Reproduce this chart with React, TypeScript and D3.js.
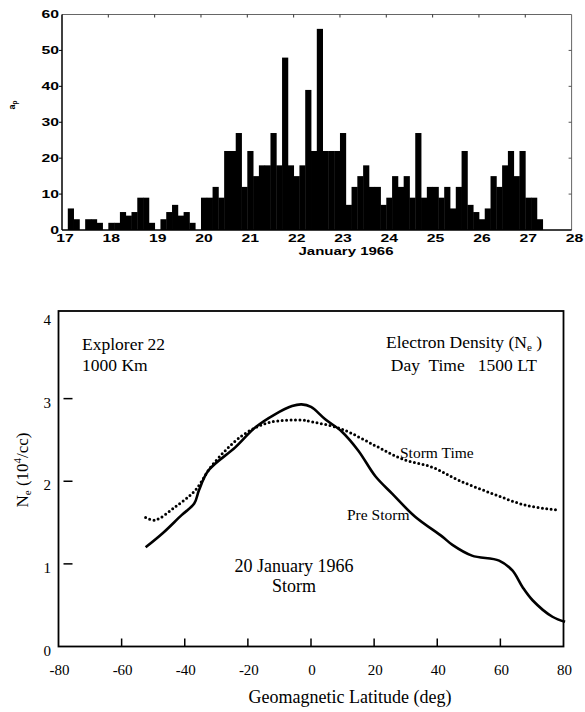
import * as d3 from "d3";

// 3-hourly ap index, 8 values per day starting 00 UT on 17 January 1966
const apValues = [
  0, 6, 3, 0, 3, 3, 2, 0,
  2, 2, 5, 4, 5, 9, 9, 2,
  0, 3, 5, 7, 4, 5, 2, 0,
  9, 9, 12, 9, 22, 22, 27, 12,
  22, 15, 18, 18, 27, 18, 48, 18,
  15, 18, 39, 22, 56, 22, 22, 22,
  27, 7, 12, 15, 18, 12, 12, 7,
  9, 15, 12, 15, 9, 27, 9, 12,
  12, 9, 12, 6, 12, 22, 7, 5,
  3, 6, 15, 12, 18, 22, 15, 22,
  9, 9, 3,
];
const dayTicks = [17, 18, 19, 20, 21, 22, 23, 24, 25, 26, 27, 28];
const apTicks = [0, 10, 20, 30, 40, 50, 60];

// Explorer 22 electron density, 1000 km, 1500 LT
const preStormLat = [-52.4, -47, -41, -37, -35.5, -32.5, -24, -17.7, -11.4, -6, -3, 0, 4.5, 9.8, 15, 20.4, 25.7, 33, 41.6, 44.8, 51, 59.6, 63.8, 67, 70.2, 76.5, 80.5];
const preStormNe = [1.2, 1.37, 1.59, 1.73, 1.89, 2.13, 2.41, 2.65, 2.81, 2.91, 2.93, 2.9, 2.75, 2.6, 2.37, 2.06, 1.85, 1.57, 1.33, 1.23, 1.1, 1.04, 0.92, 0.72, 0.56, 0.36, 0.3];
const stormLat = [-52.4, -49.4, -43, -36.7, -31.4, -21.9, -13.4, -3, 0.3, 9.8, 20.4, 28.9, 38.4, 46.9, 57.5, 68, 78.6];
const stormNe = [1.56, 1.53, 1.69, 1.89, 2.19, 2.55, 2.71, 2.74, 2.72, 2.63, 2.43, 2.27, 2.17, 2.01, 1.85, 1.71, 1.65];
const latTicks = [-80, -60, -40, -20, 0, 20, 40, 60, 80];
const neTicks = [0, 1, 2, 3, 4];

const sans = "'Liberation Sans', Arial, sans-serif";
const serif = "'Liberation Serif', 'Times New Roman', serif";

function ApPanel() {
  const x = d3.scaleLinear().domain([17, 28]).range([62, 571.6]);
  const y = d3.scaleLinear().domain([0, 60]).range([230, 14.5]);
  const bw = x(17 + 1 / 8) - x(17);
  // top panel text is stretched horizontally in the original
  const wide = (tx: number, ty: number) => `translate(${tx},${ty}) scale(1.5,1)`;

  return (
    <g>
      {apValues.map((v, i) =>
        v > 0 ? (
          <rect key={i} x={x(17 + i / 8)} y={y(v)} width={bw + 0.4} height={y(0) - y(v)} fill="#000" />
        ) : null
      )}
      <line x1={x(17)} x2={x(28)} y1={y(60)} y2={y(60)} stroke="#666" strokeWidth={1} />
      <line x1={x(28)} x2={x(28)} y1={y(60)} y2={y(0)} stroke="#666" strokeWidth={1} />
      <line x1={x(17)} x2={x(17)} y1={y(60)} y2={y(0)} stroke="#000" strokeWidth={1.5} />
      <line x1={x(17)} x2={x(28)} y1={y(0)} y2={y(0)} stroke="#000" strokeWidth={1.5} />
      {dayTicks.slice(1, -1).map((d) => (
        <line key={d} x1={x(d)} x2={x(d)} y1={y(60)} y2={y(60) + 3} stroke="#333" />
      ))}
      {apTicks.slice(1, -1).map((t) => (
        <g key={t}>
          <line x1={x(28)} x2={x(28) - 3} y1={y(t)} y2={y(t)} stroke="#555" />
          <line x1={x(17)} x2={x(17) - 3} y1={y(t)} y2={y(t)} stroke="#000" />
        </g>
      ))}
      {apTicks.map((t) => (
        <text key={t} transform={wide(59, y(t) + 3.7)} textAnchor="end" fontFamily={sans} fontWeight="bold" fontSize={10.5}>
          {t}
        </text>
      ))}
      {dayTicks.map((d) => (
        <text key={d} transform={wide(x(d) + 3, 242)} textAnchor="middle" fontFamily={sans} fontWeight="bold" fontSize={10.5}>
          {d}
        </text>
      ))}
      <text transform={wide(346, 254.5)} textAnchor="middle" fontFamily={sans} fontWeight="bold" fontSize={10}>
        January 1966
      </text>
      <text transform="translate(15,105) rotate(-90)" textAnchor="middle" fontFamily={sans} fontWeight="bold" fontSize={9}>
        a<tspan fontSize={6.5} dy={2}>p</tspan>
      </text>
    </g>
  );
}

function DensityPanel() {
  const x = d3.scaleLinear().domain([-80, 80]).range([58.5, 563.5]);
  const y = d3.scaleLinear().domain([0, 4]).range([646.5, 316]);
  const pre = d3
    .line<number>()
    .x((d) => x(d))
    .y((_, i) => y(preStormNe[i]))
    .curve(d3.curveCatmullRom.alpha(0.5));
  const storm = d3
    .line<number>()
    .x((d) => x(d))
    .y((_, i) => y(stormNe[i]))
    .curve(d3.curveCatmullRom.alpha(0.5));

  return (
    <g fontFamily={serif} fill="#000">
      <rect x={x(-80)} y={311} width={x(80) - x(-80)} height={y(0) - 311} fill="none" stroke="#000" strokeWidth={1.8} />
      {latTicks.slice(1, -1).map((t) => (
        <line key={t} x1={x(t)} x2={x(t)} y1={y(0)} y2={y(0) - 8} stroke="#000" strokeWidth={1.5} />
      ))}
      {neTicks.slice(1, -1).map((t) => (
        <line key={t} x1={x(-80) + 5} x2={x(-80) + 14} y1={y(t)} y2={y(t)} stroke="#000" strokeWidth={1.5} />
      ))}
      {latTicks.map((t) => (
        <text key={t} x={x(t) + 1} y={675} textAnchor="middle" fontSize={15}>
          {t}
        </text>
      ))}
      {neTicks.map((t) => (
        <text key={t} x={51} y={y(t) + 9} textAnchor="end" fontSize={15}>
          {t}
        </text>
      ))}
      <path d={storm(stormLat) ?? ""} fill="none" stroke="#000" strokeWidth={3} strokeDasharray="0 4.4" strokeLinecap="round" />
      <path d={pre(preStormLat) ?? ""} fill="none" stroke="#000" strokeWidth={2.6} strokeLinejoin="round" />

      <text x={82} y={350} fontSize={17.5}>Explorer 22</text>
      <text x={82} y={371} fontSize={17.5}>1000 Km</text>
      <text x={542} y={348} textAnchor="end" fontSize={17.5}>
        Electron Density (N<tspan fontSize={11} dy={3}>e</tspan>
        <tspan dy={-3}> )</tspan>
      </text>
      <text x={537} y={371} textAnchor="end" fontSize={17.5} style={{ whiteSpace: "pre" }}>
        {"Day  Time   1500 LT"}
      </text>
      <text x={400} y={458} fontSize={15.5}>Storm Time</text>
      <text x={347} y={520} fontSize={15.5}>Pre Storm</text>
      <text x={294} y={572} textAnchor="middle" fontSize={18}>20 January 1966</text>
      <text x={294} y={592} textAnchor="middle" fontSize={18}>Storm</text>
      <text x={350} y={703} textAnchor="middle" fontSize={18}>Geomagnetic Latitude (deg)</text>
      <text transform="translate(28,470) rotate(-90)" textAnchor="middle" fontSize={17}>
        N<tspan fontSize={11} dy={3}>e</tspan>
        <tspan dy={-3}> (10</tspan>
        <tspan fontSize={11} dy={-7}>4</tspan>
        <tspan dy={7}>/cc)</tspan>
      </text>
    </g>
  );
}

export default function App() {
  return (
    <svg
      width={585}
      height={712}
      style={{ position: "absolute", left: 0, top: 0, background: "#fff" }}
    >
      <rect width={585} height={712} fill="#fff" />
      <ApPanel />
      <DensityPanel />
    </svg>
  );
}
